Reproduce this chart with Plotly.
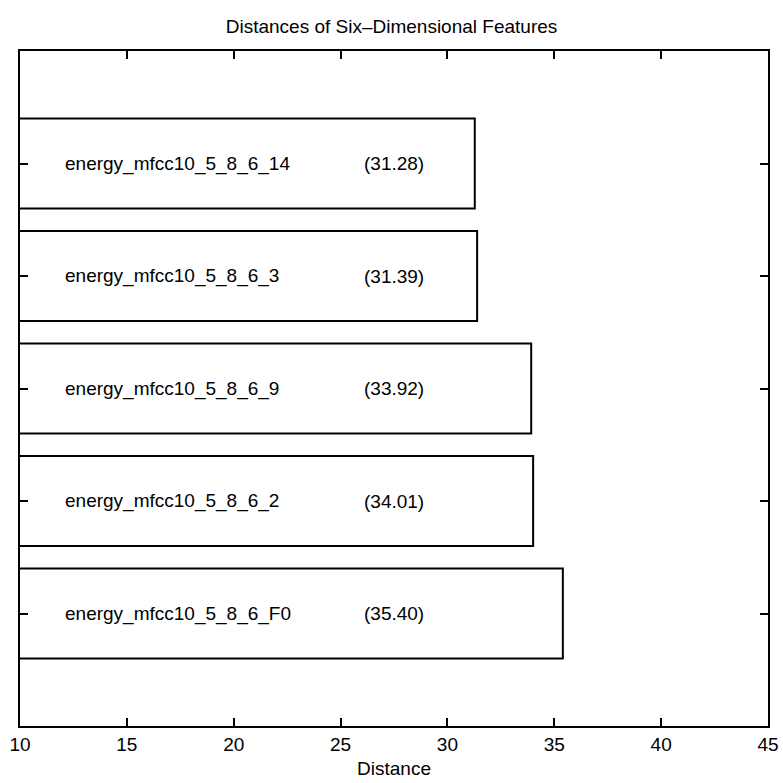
import plotly.graph_objects as go

features = ["energy_mfcc10_5_8_6_F0", "energy_mfcc10_5_8_6_2", "energy_mfcc10_5_8_6_9",
            "energy_mfcc10_5_8_6_3", "energy_mfcc10_5_8_6_14"]
distances = [35.40, 34.01, 33.92, 31.39, 31.28]
positions = [1, 2, 3, 4, 5]
x_ticks = [10, 15, 20, 25, 30, 35, 40, 45]

FONT = "Liberation Sans, Arial, Helvetica, sans-serif"

fig = go.Figure()
fig.add_trace(go.Bar(
    y=positions, x=distances, base=0, orientation="h", width=0.8,
    marker=dict(color="white", line=dict(color="black", width=2)),
    hoverinfo="skip", showlegend=False,
))

annotations = []
for p, name, d in zip(positions, features, distances):
    annotations.append(dict(x=12, y=p, xref="x", yref="y", text=name, showarrow=False,
                            xanchor="left", yanchor="middle", font=dict(size=19, color="black", family=FONT)))
    annotations.append(dict(x=26, y=p, xref="x", yref="y", text=f"({d:.2f})", showarrow=False,
                            xanchor="left", yanchor="middle", font=dict(size=19, color="black", family=FONT)))

fig.update_layout(
    width=783, height=783,
    margin=dict(l=20, r=15, t=51, b=57, autoexpand=False),
    paper_bgcolor="white", plot_bgcolor="white",
    font=dict(family=FONT, size=19, color="black"),
    title=dict(text="Distances of Six\u2013Dimensional Features", x=0.5, xanchor="center",
               y=1 - 26 / 783, yanchor="middle", yref="container",
               font=dict(size=19, color="black", family=FONT)),
    annotations=annotations,
    bargap=0.2,
)
fig.update_xaxes(
    range=[10, 45], tickvals=x_ticks, ticktext=[str(t) for t in x_ticks],
    ticks="inside", ticklen=8, tickwidth=1.5, tickcolor="black",
    showline=True, linecolor="black", linewidth=2, mirror="ticks",
    showgrid=False, zeroline=False, automargin=False,
    title=dict(text="Distance", standoff=8, font=dict(size=19, family=FONT)),
    tickfont=dict(size=19, family=FONT),
)
fig.update_yaxes(
    range=[0, 6], tickvals=positions, ticktext=["" for _ in positions],
    ticks="inside", ticklen=8, tickwidth=1.5, tickcolor="black",
    showline=True, linecolor="black", linewidth=2, mirror="ticks",
    showgrid=False, zeroline=False, automargin=False,
)

fig.write_html("out.html")
